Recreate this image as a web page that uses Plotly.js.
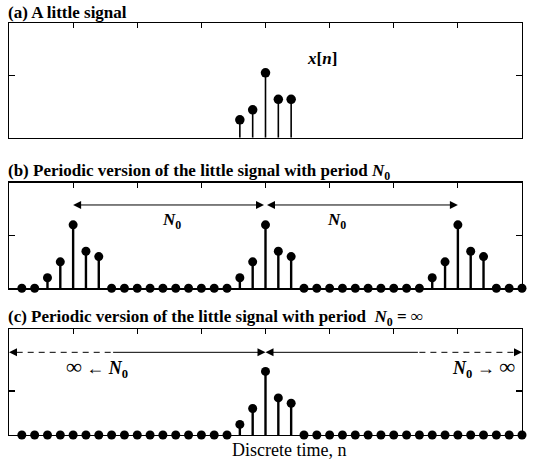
<!DOCTYPE html>
<html>
<head>
<meta charset="utf-8">
<script src="https://cdn.plot.ly/plotly-3.0.1.min.js"></script>
<style>html,body{margin:0;padding:0;background:#fff}</style>
</head>
<body>
<div id="chart" style="width:535px;height:467px"></div>
<script>
// ---- data ----
// (a) the little signal
var nA = [-2, -1, 0, 1, 2];
var xA = [0.29, 0.45, 1.05, 0.62, 0.62];
// discrete time axis for (b) and (c)
var nAll = [-19,-18,-17,-16,-15,-14,-13,-12,-11,-10,-9,-8,-7,-6,-5,-4,-3,-2,-1,0,
            1,2,3,4,5,6,7,8,9,10,11,12,13,14,15,16,17,18,19,20];
// (b) periodic version, period N0 = 15
var xB = [0,0,0.2,0.5,1.2,0.7,0.6,0,0,0,0,0,0,0,0,0,0,0.2,0.5,1.2,
          0.7,0.6,0,0,0,0,0,0,0,0,0,0,0.2,0.5,1.2,0.7,0.6,0,0,0];
// (c) periodic version with N0 = infinity
var xC = [0,0,0,0,0,0,0,0,0,0,0,0,0,0,0,0,0,0.2,0.5,1.2,
          0.7,0.6,0,0,0,0,0,0,0,0,0,0,0,0,0,0,0,0,0,0];
var xTicks = [-15, -10, -5, 0, 5, 10, 15];
var INF = '<span style="font-size:22px">∞</span>';
var titles = [
  "(a) A little signal",
  "(b) Periodic version of the little signal with period <i>N</i><sub>0</sub>",
  "(c) Periodic version of the little signal with period  <i>N</i><sub>0</sub> = ∞"
];
var xLabel = "Discrete time, n";

// ---- helpers ----
function stemLines(n, v) {
  var xs = [], ys = [];
  for (var i = 0; i < n.length; i++) {
    if (v[i] !== 0) { xs.push(n[i], n[i], null); ys.push(0, v[i], null); }
  }
  return {xs: xs, ys: ys};
}
function stemTraces(n, v, xa, ya, lw, ms) {
  var s = stemLines(n, v);
  return [
    {type:'scatter', mode:'lines', x:s.xs, y:s.ys, xaxis:xa, yaxis:ya,
     line:{color:'#000', width:lw}, hoverinfo:'skip', showlegend:false, cliponaxis:false},
    {type:'scatter', mode:'markers', x:n, y:v, xaxis:xa, yaxis:ya,
     marker:{color:'#000', size:ms}, showlegend:false, cliponaxis:false}
  ];
}

var traces = []
  .concat(stemTraces(nA, xA, 'x', 'y', 1.6, 9.5))
  .concat(stemTraces(nAll, xB, 'x2', 'y2', 2.4, 9))
  .concat(stemTraces(nAll, xC, 'x3', 'y3', 2.4, 9));

function xax(anchor) {
  return {domain:[0,1], range:[-20,20], anchor:anchor, side:'top',
    showgrid:false, zeroline:false, showline:true, mirror:true,
    linecolor:'#000', linewidth:1.2, ticks:'inside', ticklen:5, tickwidth:1.2,
    tickcolor:'#000', tickvals:xTicks, showticklabels:false, fixedrange:true};
}
function yax(anchor, dom, rng, tick) {
  return {domain:dom, range:rng, anchor:anchor,
    showgrid:false, zeroline:false, showline:true, mirror:'ticks',
    linecolor:'#000', linewidth:1.2, ticks:'inside', ticklen:6, tickwidth:1.2,
    tickcolor:'#000', tickvals:[tick], showticklabels:false, fixedrange:true};
}

var F = 'Liberation Serif, Times New Roman, serif';
var H = 467, L = 9, W = 513;
function py(pix) { return 1 - pix / H; }
function px(pix) { return (pix - L) / W; }

var ann = [];
// titles
[[13, 0], [172, 1], [318, 2]].forEach(function (t) {
  ann.push({xref:'paper', yref:'paper', x:px(6), y:py(t[0]), xanchor:'left', yanchor:'middle',
    text:'<b>' + titles[t[1]] + '</b>', showarrow:false, font:{family:F, size:17, color:'#000'}});
});
// x label
ann.push({xref:'paper', yref:'paper', x:px(289), y:py(450), xanchor:'center', yanchor:'middle',
  text:xLabel, showarrow:false, font:{family:F, size:18, color:'#000'}});
// x[n]
ann.push({xref:'x', yref:'y', x:4.4, y:1.28, text:'<b><i>x</i>[<i>n</i>]</b>', showarrow:false,
  font:{family:F, size:17, color:'#000'}});
// panel b arrows and labels
var yArrB = 1.575;
[[-15, 0], [15, 0]].forEach(function (a) {
  ann.push({xref:'x2', yref:'y2', axref:'x2', ayref:'y2', x:a[0], y:yArrB, ax:a[1], ay:yArrB,
    text:'', showarrow:true, arrowhead:2, startarrowhead:2, arrowside:'end+start',
    arrowsize:1.6, arrowwidth:1, arrowcolor:'#000'});
});
[-7.3, 5.5].forEach(function (x) {
  ann.push({xref:'x2', yref:'y2', x:x, y:1.27, text:'<b><i>N</i><sub>0</sub></b>', showarrow:false,
    font:{family:F, size:17, color:'#000'}});
});
// panel c arrows
var yArrC = 1.56;
[[0, -12], [0, 12], [-20, -19.4], [20, 19.4]].forEach(function (a) {
  ann.push({xref:'x3', yref:'y3', axref:'x3', ayref:'y3', x:a[0], y:yArrC, ax:a[1], ay:yArrC,
    text:'', showarrow:true, arrowhead:2, arrowsize:1.6, arrowwidth:1, arrowcolor:'#000'});
});
ann.push({xref:'x3', yref:'y3', x:-13.1, y:1.28, text:'<b>' + INF + ' ← <i>N</i><sub>0</sub></b>', showarrow:false,
  font:{family:F, size:18, color:'#000'}});
ann.push({xref:'x3', yref:'y3', x:17.0, y:1.28, text:'<b><i>N</i><sub>0</sub> → ' + INF + '</b>', showarrow:false,
  font:{family:F, size:18, color:'#000'}});

var shapes = [
  {type:'line', xref:'x3', yref:'y3', x0:-19.4, x1:-12, y0:yArrC, y1:yArrC,
   line:{color:'#000', width:1, dash:'6px,5px'}},
  {type:'line', xref:'x3', yref:'y3', x0:12, x1:19.4, y0:yArrC, y1:yArrC,
   line:{color:'#000', width:1, dash:'6px,5px'}}
];

var layout = {
  width:535, height:467, margin:{l:L, r:535-L-W, t:0, b:0},
  paper_bgcolor:'#fff', plot_bgcolor:'#fff', showlegend:false,
  xaxis: xax('y'), yaxis: yax('x', [py(137.7), py(23.3)], [0, 1.85], 1),
  xaxis2: xax('y2'), yaxis2: yax('x2', [py(288.3), py(182.5)], [0, 2], 1),
  xaxis3: xax('y3'), yaxis3: yax('x3', [py(435), py(329)], [0, 2], 0.83),
  annotations: ann, shapes: shapes
};

Plotly.newPlot('chart', traces, layout, {displayModeBar:false, staticPlot:true});
</script>
</body>
</html>
